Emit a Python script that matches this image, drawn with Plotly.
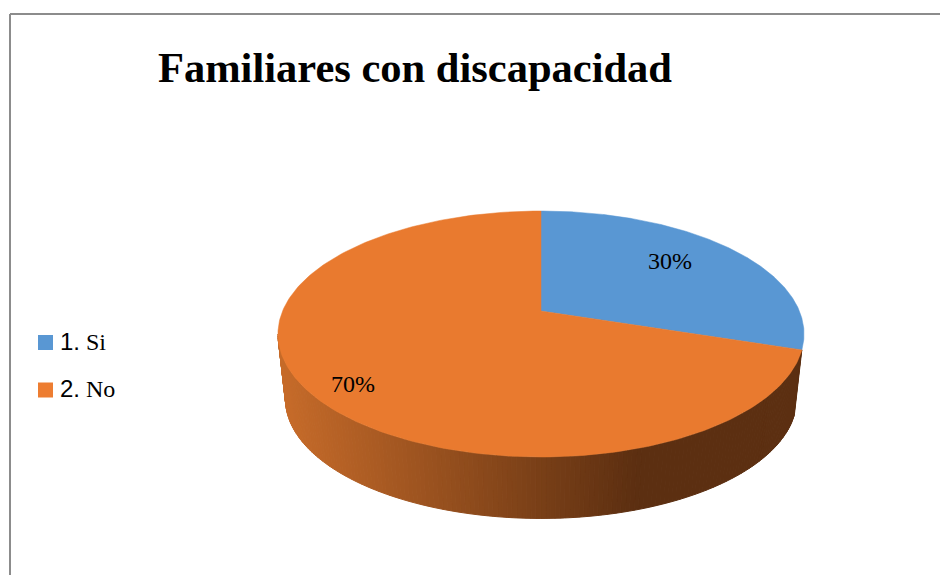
import numpy as np
import plotly.graph_objects as go

# ------------------------------------------------------------
# Data
# ------------------------------------------------------------
title = "Familiares con discapacidad"
categories = ["Si", "No"]
category_nums = ["1.", "2."]
values = [30, 70]

BLUE = "#5997D3"
ORANGE = "#E97A2F"
LEGEND_ORANGE = "#ED7D31"
FRAME = "#8C8C8C"

# ------------------------------------------------------------
# Pie geometry: axes run in page pixels, pie seen in perspective
# ------------------------------------------------------------
CX = 541
TOP = dict(y0=311, a=258.4, b=118.7)
BOTTOM = dict(y0=377, a=251, b=115)
K = 0.187


def project(theta, r, disc):
    u = r * np.sin(theta)
    v = -r * np.cos(theta)
    w = 1 - K * v
    return CX + disc["a"] * u / w, disc["y0"] + disc["b"] * v / w


def wall_color(x):
    # light on the left, darkest from about x=637 on
    t = min(max((x - 280) / (637 - 280), 0), 1)
    left = np.array([200, 108, 42])
    right = np.array([92, 47, 17])
    c = left + (right - left) * t
    return f"rgb({int(c[0])},{int(c[1])},{int(c[2])})"


fig = go.Figure()
total = sum(values)

# --- side wall of the orange slice, thin strips so the colour can run left to right
theta_from = values[0] / total * 2 * np.pi
theta_to = 2 * np.pi - np.arccos(-K)
edges = np.linspace(theta_from, theta_to, 171)
for a0, a1 in zip(edges[:-1], edges[1:]):
    tx, ty = project(np.array([a0, a1]), 1, TOP)
    bx, by = project(np.array([a1, a0]), 1, BOTTOM)
    col = wall_color((tx.mean() + bx.mean()) / 2)
    fig.add_trace(go.Scatter(
        x=list(tx) + list(bx) + [tx[0]],
        y=list(ty) + list(by) + [ty[0]],
        mode="lines", fill="toself", fillcolor=col,
        line=dict(color=col, width=1), hoverinfo="skip",
    ))

# --- top of the pie, slices from the values
start = 0.0
for val, col in zip(values, [BLUE, ORANGE]):
    end = start + val / total * 2 * np.pi
    ang = np.linspace(start, end, 240)
    sx, sy = project(ang, 1, TOP)
    fig.add_trace(go.Scatter(
        x=[CX] + list(sx) + [CX],
        y=[TOP["y0"]] + list(sy) + [TOP["y0"]],
        mode="lines", fill="toself", fillcolor=col,
        line=dict(color=col, width=0.5), hoverinfo="skip",
    ))
    start = end

# --- legend swatches
fig.add_trace(go.Scatter(
    x=[45.5, 45.5], y=[342.5, 390],
    mode="markers",
    marker=dict(symbol="square", size=15, color=[BLUE, LEGEND_ORANGE]),
    hoverinfo="skip",
))

annotations = [
    dict(x=415, y=67, text=f"<b>{title}</b>",
         font=dict(family="Liberation Serif", size=42.5, color="black")),
    dict(x=670, y=261, text=f"{values[0]}%",
         font=dict(family="Liberation Serif", size=24, color="black")),
    dict(x=353, y=384, text=f"{values[1]}%",
         font=dict(family="Liberation Serif", size=24, color="black")),
]
for num, cat, y in zip(category_nums, categories, [341, 388]):
    annotations.append(dict(
        x=58, y=y, xanchor="left",
        text=f'<span style="font-family:Liberation Sans">{num}</span> {cat}',
        font=dict(family="Liberation Serif", size=24, color="black"),
    ))
for a in annotations:
    a.update(xref="x", yref="y", showarrow=False)

# frame of the chart, open to the right and bottom of the page
shapes = [
    dict(type="line", x0=10, x1=940, y0=14, y1=14, line=dict(color=FRAME, width=2)),
    dict(type="line", x0=10, x1=10, y0=14, y1=575, line=dict(color=FRAME, width=2)),
]

fig.update_layout(
    width=940, height=575,
    margin=dict(l=0, r=0, t=0, b=0),
    paper_bgcolor="white", plot_bgcolor="white",
    showlegend=False,
    xaxis=dict(range=[0, 940], visible=False, fixedrange=True),
    yaxis=dict(range=[575, 0], visible=False, fixedrange=True),
    annotations=annotations, shapes=shapes,
)

fig.write_html("out.html", config={"displayModeBar": False},
               post_script="document.body.style.margin='0';document.body.style.overflow='hidden';")
